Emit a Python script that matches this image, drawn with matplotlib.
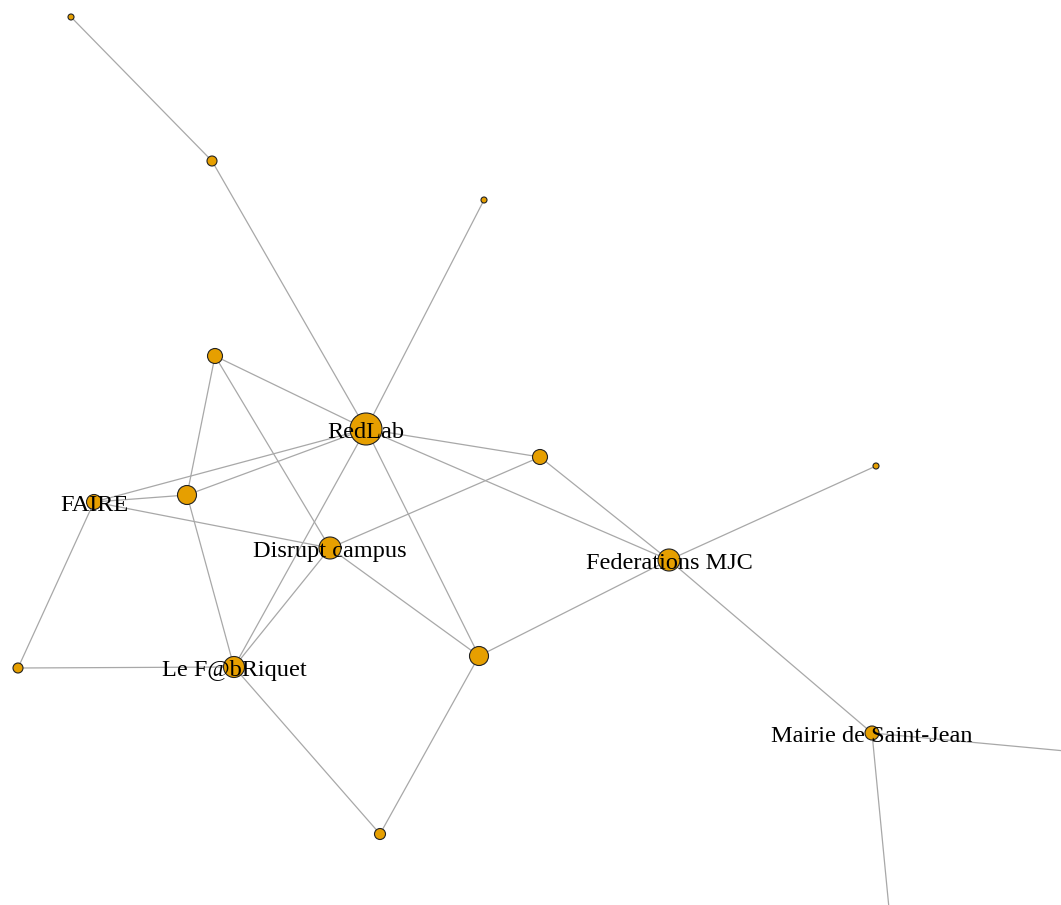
import matplotlib
matplotlib.use("Agg")
import matplotlib.pyplot as plt
from matplotlib.collections import LineCollection

# Node names (unlabelled nodes have empty labels)
node_ids = ["A", "B", "C", "D", "RedLab", "E", "F", "FAIRE", "G",
            "Disrupt campus", "Federations MJC", "H", "Le F@bRiquet", "I",
            "Mairie de Saint-Jean", "J", "K", "L"]
node_labels = ["", "", "", "", "RedLab", "", "", "FAIRE", "",
               "Disrupt campus", "Federations MJC", "", "Le F@bRiquet", "",
               "Mairie de Saint-Jean", "", "", ""]
# Layout coordinates (x, y)
node_x = [71, 212, 484, 215, 366, 540, 876, 94, 187,
          330, 669, 18, 234, 479, 872, 380, 1130, 894]
node_y = [17, 161, 200, 356, 429, 457, 466, 502, 495,
          548, 560, 668, 667, 656, 733, 834, 757, 960]
# Node radius (degree-like size), in pixels
node_size = [3, 5, 3, 7.5, 16, 7.5, 3, 7.5, 9.5,
             11, 11, 5, 10.5, 9.5, 7, 5.5, 5, 5]

edges = [
    ("A", "B"), ("B", "RedLab"), ("C", "RedLab"), ("D", "RedLab"),
    ("D", "G"), ("D", "Disrupt campus"), ("G", "Le F@bRiquet"),
    ("RedLab", "E"), ("RedLab", "FAIRE"), ("RedLab", "G"),
    ("RedLab", "Federations MJC"), ("RedLab", "I"), ("RedLab", "Le F@bRiquet"),
    ("E", "Disrupt campus"), ("E", "Federations MJC"),
    ("FAIRE", "G"), ("FAIRE", "Disrupt campus"), ("FAIRE", "H"),
    ("H", "Le F@bRiquet"), ("Disrupt campus", "Le F@bRiquet"),
    ("Disrupt campus", "I"), ("Le F@bRiquet", "J"), ("I", "J"),
    ("I", "Federations MJC"), ("Federations MJC", "F"),
    ("Federations MJC", "Mairie de Saint-Jean"),
    ("Mairie de Saint-Jean", "K"), ("Mairie de Saint-Jean", "L"),
]

W, H = 1061, 905
fig = plt.figure(figsize=(W / 100, H / 100), dpi=100)
ax = fig.add_axes([0, 0, 1, 1])
ax.set_xlim(0, W)
ax.set_ylim(H, 0)
ax.axis("off")

idx = {n: i for i, n in enumerate(node_ids)}
segs = [[(node_x[idx[a]], node_y[idx[a]]), (node_x[idx[b]], node_y[idx[b]])]
        for a, b in edges]
ax.add_collection(LineCollection(segs, colors="#a8a8a8", linewidths=0.9, zorder=1))

sizes = [(2 * r * 0.72) ** 2 for r in node_size]
ax.scatter(node_x, node_y, s=sizes, c="#E69F00", edgecolors="#222222",
           linewidths=0.8, zorder=2)

for x, y, lab in zip(node_x, node_y, node_labels):
    if lab:
        ax.text(x, y + 3, lab, ha="center", va="center", fontsize=17.5,
                family="Liberation Serif", color="black", zorder=3)

fig.savefig("out.png", dpi=100)
